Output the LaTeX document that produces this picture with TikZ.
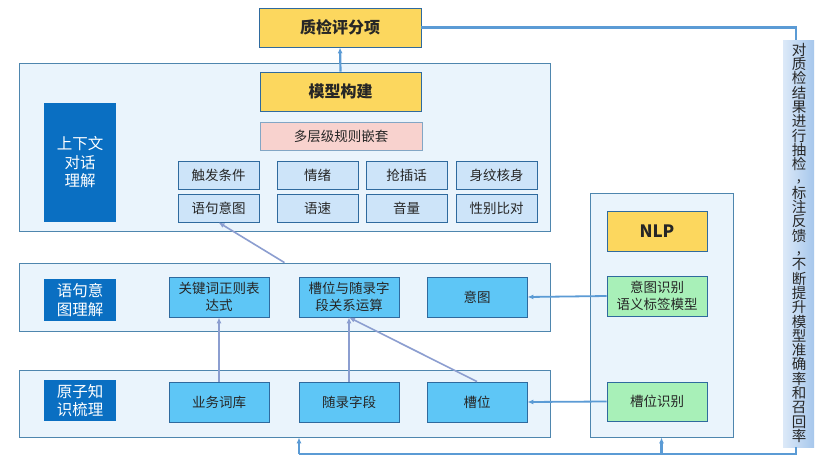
\documentclass[tikz,border=0pt]{standalone}
\usepackage{fontspec}
\setmainfont{Noto Sans CJK SC}
\usetikzlibrary{arrows.meta}
\definecolor{panelfill}{HTML}{EAF4FC}
\definecolor{paneldraw}{HTML}{4E86AE}
\definecolor{yel}{HTML}{FCD75E}
\definecolor{pinkc}{HTML}{F8D2CE}
\definecolor{lightb}{HTML}{CDE4F9}
\definecolor{cyanb}{HTML}{5EC6F6}
\definecolor{greenb}{HTML}{A8F0B8}
\definecolor{darkb}{HTML}{0A6FC2}
\definecolor{boxdraw}{HTML}{2F6A9E}
\definecolor{fbline}{HTML}{5B9BD5}
\definecolor{inline}{HTML}{8C9ED0}
\definecolor{txt}{HTML}{262626}
\definecolor{barl}{HTML}{DCE9F8}
\definecolor{barr}{HTML}{A6C7EC}
\newcommand{\vc}[1]{\hbox to 15pt{\hss#1\hss}}
\newcommand{\vcomma}{\vc{\raisebox{2.5pt}{,}}}
\tikzset{
  panel/.style={draw=paneldraw, line width=0.8pt, fill=panelfill, inner sep=0pt},
  basebox/.style={draw=boxdraw, line width=0.8pt, inner sep=0pt, align=center, text=txt,
    font=\fontsize{13.5}{17}\selectfont},
  yelbox/.style={basebox, fill=yel, font=\fontsize{16}{19}\selectfont\bfseries, minimum width=161pt, minimum height=39pt},
  pinkbox/.style={basebox, fill=pinkc, draw=boxdraw!60, minimum width=162pt, minimum height=28pt},
  lbox/.style={basebox, fill=lightb, minimum width=81pt, minimum height=28pt},
  cbox/.style={basebox, fill=cyanb, minimum width=100pt, minimum height=40pt},
  gbox/.style={basebox, fill=greenb, minimum width=100pt, minimum height=40pt},
  darkbox/.style={fill=darkb, text=white, inner sep=0pt, align=center, minimum width=72pt,
    font=\fontsize{15.5}{18.5}\selectfont},
  fb/.style={draw=fbline, line width=2.2pt},
  fbarrow/.style={fb, -{Latex[length=6pt,width=5pt]}},
  inarrow/.style={draw=inline, line width=1.6pt, -{Latex[length=6pt,width=5pt]}},
}
\begin{document}
\begin{tikzpicture}[x=1pt,y=-1pt]
\useasboundingbox[fill=white] (0,0) rectangle (824,463);
% panels
\node[panel, minimum width=531pt, minimum height=168pt] (P1) at (284.5,147) {};
\node[panel, minimum width=531pt, minimum height=68pt] (P2) at (284.5,297) {};
\node[panel, minimum width=531pt, minimum height=67pt] (P3) at (284.5,403.5) {};
\node[panel, minimum width=143pt, minimum height=244pt] (NP) at (661.5,315) {};
% top
\node[yelbox, minimum width=162pt] (q) at (340,27.5) {质检评分项};
\node[yelbox] (mx) at (340.5,91.5) {模型构建};
\node[pinkbox] (dc) at (341,136) {多层级规则嵌套};
\node[darkbox, minimum height=119pt] (d1) at (80,162.5) {上下文\\对话\\理解};
\node[lbox] (r11) at (218.5,175) {触发条件};
\node[lbox] (r12) at (317.5,175) {情绪};
\node[lbox] (r13) at (406.5,175) {抢插话};
\node[lbox] (r14) at (496.5,175) {身纹核身};
\node[lbox] (r21) at (218.5,208) {语句意图};
\node[lbox] (r22) at (317.5,208) {语速};
\node[lbox] (r23) at (406.5,208) {音量};
\node[lbox] (r24) at (496.5,208) {性别比对};
% middle
\node[darkbox, minimum height=42pt] (d2) at (80,300) {语句意\\图理解};
\node[cbox] (k) at (219,297) {关键词正则表\\达式};
\node[cbox] (s) at (349,297) {槽位与随录字\\段关系运算};
\node[cbox] (yt) at (477,297) {意图};
% bottom
\node[darkbox, minimum height=41pt] (d3) at (80,400.5) {原子知\\识梳理};
\node[cbox] (b1) at (219,402) {业务词库};
\node[cbox] (b2) at (349,402) {随录字段};
\node[cbox] (b3) at (477,402) {槽位};
% NLP
\node[yelbox, minimum width=100pt, minimum height=40pt, font=\fontsize{17}{20}\selectfont\bfseries] (nlp) at (657,231) {NLP};
\node[gbox] (it) at (657,296) {意图识别\\语义标签模型};
\node[gbox, minimum height=39pt] (sl) at (657,401.5) {槽位识别};
% feedback bar
\node[minimum width=31pt, minimum height=407pt, inner sep=0pt, left color=barl, right color=barr] (bar) at (798.5,243.5) {};
\node[anchor=north, text=txt, inner sep=0pt, font=\fontsize{14.5}{14.3}\selectfont] (bt) at (799,43)
 {\vbox{\baselineskip=14.3pt\lineskiplimit=-20pt\lineskip=0pt
 \vc{对}\vc{质}\vc{检}\vc{结}\vc{果}\vc{进}\vc{行}\vc{抽}\vc{检}\vcomma
 \vc{标}\vc{注}\vc{反}\vc{馈}\vcomma
 \vc{不}\vc{断}\vc{提}\vc{升}\vc{模}\vc{型}\vc{准}\vc{确}\vc{率}\vc{和}\vc{召}\vc{回}\vc{率}}};
% connectors
\draw[fbarrow] (mx.north) -- (q.south);
\coordinate (tr) at (796,27.5);
\coordinate (br) at (796,454);
\coordinate (bl) at (299,454);
\draw[fb] (q.east) -- (tr) -- (tr |- bar.north);
\draw[fb] (br |- bar.south) -- (br) -- (bl);
\draw[fbarrow] (bl) -- (bl |- P3.south);
\draw[fbarrow] (NP.south |- bl) -- (NP.south);
\draw[fbarrow, line width=1.8pt] (it.west) -- (yt.east);
\draw[fbarrow, line width=1.8pt] (sl.west) -- (b3.east);
\draw[inarrow] (b1.north) -- (k.south);
\draw[inarrow] (b2.north) -- (s.south);
\draw[inarrow] (b3.north) -- (s.south);
\draw[inarrow] (P2.north) -- (r21.south);
\end{tikzpicture}
\end{document}
